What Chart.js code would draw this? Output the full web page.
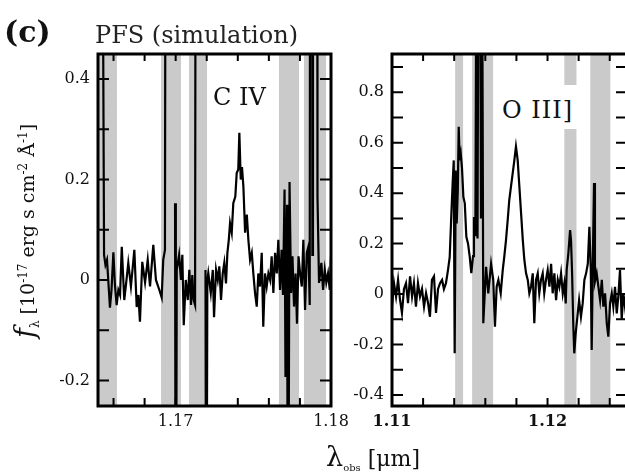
<!DOCTYPE html>
<html>
<head>
<meta charset="utf-8">
<script src="https://cdn.jsdelivr.net/npm/chart.js@4.4.1/dist/chart.umd.min.js"></script>
<style>
    html, body { margin: 0; padding: 0; background: #fff; }
    body { width: 625px; height: 473px; position: relative; overflow: hidden; font-family: "DejaVu Serif", serif; color: #111; }
    canvas { position: absolute; left: 0; top: 0; }
    .txt { position: absolute; white-space: nowrap; line-height: 1; }
    #panel { left: 4px; top: 17px; font-size: 30px; font-weight: bold; }
    #title { left: 95px; top: 23px; font-size: 24px; color: #222; }
    #civLabel { left: 213px; top: 85px; font-size: 24px; }
    #oiiiBox { position: absolute; left: 500px; top: 85px; width: 78px; height: 44px; background: #fff; }
    #oiiiLabel { left: 502px; top: 98px; font-size: 24px; letter-spacing: 1px; }
    #ytitle { left: -105px; top: 217px; width: 260px; height: 28px; text-align: center; font-size: 19px; transform: rotate(-90deg); }
    #ytitle .f { font-style: italic; font-size: 27px; }
    #ytitle sub, #ytitle sup { font-size: 12px; }
    #xtitle { left: 326px; top: 443px; font-size: 22px; }
    #xtitle .l { font-size: 27px; }
    #xtitle sub { font-size: 10px; }
</style>
</head>
<body>
<canvas id="civChart" width="625" height="473"></canvas>
<canvas id="oiiiChart" width="640" height="473"></canvas>
<div id="oiiiBox"></div>
<div class="txt" id="panel">(c)</div>
<div class="txt" id="title">PFS (simulation)</div>
<div class="txt" id="civLabel">C IV</div>
<div class="txt" id="oiiiLabel">O III]</div>
<div class="txt" id="ytitle"><span class="f">f</span><sub>λ</sub> [10<sup>-17</sup> erg s cm<sup>-2</sup> Å<sup>-1</sup>]</div>
<div class="txt" id="xtitle"><span class="l">λ</span><sub>obs</sub> [μm]</div>
<script>
// C IV panel: observed wavelength (um) and flux; null marks a gap in the spectrum
const civWave = [
    1.16529, 1.16539, 1.16548, 1.16558, 1.16568, 1.16577, 1.16587, 1.16599, 1.16609, 1.16620,
    1.16631, 1.16642, 1.16653, 1.16669, 1.16680, 1.16695, 1.16712, 1.16734, 1.16749, 1.16760,
    1.16770, 1.16785, 1.16803, 1.16820, 1.16835, 1.16856, 1.16873, 1.16895, 1.16910, 1.16920,
    1.16931, 1.16938, 1.16964,
    1.16996, 1.17001, 1.17007, 1.17022, 1.17034, 1.17043, 1.17052, 1.17065, 1.17078, 1.17088,
    1.17099, 1.17107, 1.17116, 1.17125, 1.17131, 1.17157,
    1.17192, 1.17197, 1.17204, 1.17210, 1.17226, 1.17239, 1.17247, 1.17260, 1.17271, 1.17281,
    1.17292, 1.17303, 1.17313, 1.17324, 1.17333, 1.17342, 1.17350, 1.17361, 1.17371, 1.17384,
    1.17393, 1.17403, 1.17410, 1.17419, 1.17427, 1.17436, 1.17447, 1.17458, 1.17468, 1.17479,
    1.17490, 1.17500, 1.17511, 1.17522, 1.17532, 1.17543, 1.17554, 1.17564, 1.17575, 1.17586,
    1.17597, 1.17608, 1.17618, 1.17629, 1.17640, 1.17651, 1.17661, 1.17672, 1.17682, 1.17691,
    1.17701, 1.17707, 1.17717, 1.17723, 1.17733, 1.17743, 1.17752, 1.17762, 1.17772, 1.17781,
    1.17791, 1.17801, 1.17812, 1.17822, 1.17833, 1.17844, 1.17854, 1.17863, 1.17867, 1.17877,
    1.17880, 1.17884, 1.17910, 1.17913, 1.17923, 1.17938, 1.17949, 1.17960, 1.17970, 1.17981,
    1.17992, 1.18004
];
const civFlux = [
    0.8, 0.05, 0.03, 0.04, -0.01, -0.055, -0.02, 0.055, -0.01, -0.05,
    -0.02, -0.03, 0.066, -0.04, -0.01, 0.034, -0.013, 0.06, -0.054, -0.03,
    -0.083, 0.036, -0.005, 0.04, -0.013, 0.07, 0.0, -0.02, -0.035, 0.04,
    0.06, 1.5, null,
    0.153, -0.8, 0.02, 0.05, 0.0, 0.05, -0.09, 0.0, -0.04, 0.02,
    -0.05, 0.01, -0.04, -0.05, 1.5, null,
    0.02, -0.8, 0.0, 0.014, -0.026, 0.02, -0.074, 0.02, 0.0, 0.027,
    -0.04, 0.013, 0.034, -0.007, 0.054, 0.08, 0.113, 0.094, 0.153, 0.166,
    0.213, 0.22, 0.293, 0.2, 0.225, 0.186, 0.094, 0.13, 0.08, 0.04,
    0.054, 0.013, -0.026, -0.053, 0.013, -0.013, 0.054, -0.093, 0.013, -0.013,
    0.013, 0.0, 0.047, -0.026, 0.054, 0.013, 0.08, -0.02, 0.06, -0.03,
    0.18, -0.193, 0.15, -0.8, 0.195, -0.026, 0.047, -0.053, 0.013, -0.087,
    0.047, 0.013, -0.013, 0.08, -0.06, 0.054, 0.066, -0.05, 1.5, 1.5,
    0.05, 1.5, 1.5, 0.166, -0.006, 0.034, -0.02, 0.02, -0.005, 0.013,
    -0.02, 0.08
];
const civBands = [[1.1650, 1.16622], [1.16906, 1.17034], [1.17086, 1.17202], [1.17665, 1.17794], [1.17826, 1.17968]];
const civXTicks = [1.166, 1.168, 1.17, 1.172, 1.174, 1.176, 1.178, 1.18];
const civXLabels = [1.17, 1.18];
const civYTicks = [-0.2, -0.1, 0, 0.1, 0.2, 0.3, 0.4];
const civYLabels = [-0.2, 0, 0.2, 0.4];

// O III] panel
const oiiiWave = [
    1.11000, 1.11013, 1.11026, 1.11039, 1.11051, 1.11064, 1.11077, 1.11090, 1.11103, 1.11116,
    1.11129, 1.11141, 1.11154, 1.11167, 1.11180, 1.11193, 1.11206, 1.11219, 1.11232, 1.11244,
    1.11257, 1.11270, 1.11283, 1.11296, 1.11309, 1.11322, 1.11334, 1.11347, 1.11360, 1.11371,
    1.11381, 1.11390, 1.11397, 1.11403, 1.11410, 1.11416, 1.11423, 1.11429, 1.11435, 1.11442,
    1.11450, 1.11459, 1.11468, 1.11478, 1.11489, 1.11500, 1.11510, 1.11521, 1.11527, 1.11536,
    1.11543, 1.11550, 1.11556, 1.11566, 1.11572, 1.11579, 1.11587, 1.11605, 1.11619, 1.11637,
    1.11651, 1.11662, 1.11673, 1.11684, 1.11699, 1.11712, 1.11722, 1.11733, 1.11744, 1.11754,
    1.11765, 1.11776, 1.11787, 1.11797, 1.11808, 1.11819, 1.11830, 1.11841, 1.11851, 1.11862,
    1.11873, 1.11883, 1.11894, 1.11905, 1.11915, 1.11926, 1.11937, 1.11947, 1.11958, 1.11969,
    1.11979, 1.11990, 1.12001, 1.12012, 1.12023, 1.12033, 1.12044, 1.12055, 1.12066, 1.12076,
    1.12087, 1.12098, 1.12108, 1.12117, 1.12123, 1.12134, 1.12145, 1.12151, 1.12158, 1.12166,
    1.12172, 1.12181, 1.12192, 1.12203, 1.12215, 1.12226, 1.12237, 1.12248, 1.12259, 1.12269,
    1.12278, 1.12284, 1.12293, 1.12299, 1.12305, 1.12316, 1.12327, 1.12338, 1.12349, 1.12359,
    1.12370, 1.12381, 1.12391, 1.12402, 1.12413, 1.12423, 1.12434, 1.12445, 1.12455, 1.12466,
    1.12477, 1.12487, 1.12498, 1.12511
];
const oiiiFlux = [
    -0.05, 0.043, -0.011, 0.056, -0.02, -0.075, 0.02, 0.043, -0.036, 0.07,
    -0.01, 0.043, -0.05, 0.043, -0.01, 0.02, -0.05, 0.004, -0.036, -0.09,
    0.056, 0.07, -0.075, 0.02, 0.043, 0.056, 0.02, 0.043, 0.095, 0.146,
    0.306, 0.44, 0.53, -0.235, 0.49, 0.28, 0.41, 0.663, 0.53, 0.557,
    0.5, 0.385, 0.36, 0.227, 0.2, 0.146, 0.083, 0.15, 0.306, 0.23,
    1.5, 0.22, 1.5, 1.5, 0.3, 1.5, -0.116, 0.108, 0.003, 0.12,
    0.056, -0.13, 0.029, 0.056, 0.003, 0.095, 0.148, 0.214, 0.294, 0.373,
    0.426, 0.479, 0.532, 0.585, 0.532, 0.426, 0.32, 0.214, 0.135, 0.082,
    0.056, 0.003, 0.029, 0.082, -0.116, 0.056, 0.082, 0.003, 0.056, 0.082,
    0.003, 0.056, 0.095, 0.029, 0.12, 0.003, 0.082, -0.024, 0.056, 0.029,
    0.082, 0.003, 0.042, -0.037, 0.095, 0.161, 0.254, 0.214, 0.082, -0.13,
    -0.235, -0.156, -0.09, -0.024, -0.09, -0.037, 0.056, 0.082, 0.12, 0.267,
    0.1, -0.222, 0.2, 0.44, 0.05, 0.082, 0.029, -0.024, 0.056, -0.05,
    0.003, -0.116, -0.169, -0.037, 0.003, -0.05, 0.029, -0.077, -0.011, 0.095,
    -0.103, 0.003, -0.05, 0.03
];
const oiiiBands = [[1.11406, 1.11457], [1.11515, 1.11650], [1.12108, 1.12186], [1.12275, 1.12404]];
const oiiiXTicks = [1.11, 1.112, 1.114, 1.116, 1.118, 1.12, 1.122, 1.124];
const oiiiXLabels = [1.11, 1.12];
const oiiiYTicks = [-0.4, -0.3, -0.2, -0.1, 0, 0.1, 0.2, 0.3, 0.4, 0.5, 0.6, 0.7, 0.8, 0.9];
const oiiiYLabels = [-0.4, -0.2, 0, 0.2, 0.4, 0.6, 0.8];

(function (window, document) {
    "use strict";

    const FONT = "DejaVu Serif";

    // grey sky-line bands under the spectrum, inward ticks and the frame on top
    const framePlugin = {
        id: "frame",
        beforeDatasetsDraw(chart, args, opts) {
            const { ctx, chartArea: a } = chart;
            const x = chart.scales.x;
            ctx.save();
            ctx.fillStyle = "#cacaca";
            (opts.bands || []).forEach(band => {
                const x0 = Math.max(x.getPixelForValue(band[0]), a.left);
                const x1 = Math.min(x.getPixelForValue(band[1]), a.right);
                ctx.fillRect(x0, a.top, x1 - x0, a.bottom - a.top);
            });
            ctx.restore();
        },
        afterDraw(chart) {
            const { ctx, chartArea: a } = chart;
            const x = chart.scales.x;
            const y = chart.scales.y;
            ctx.save();
            ctx.strokeStyle = "#000";
            ctx.lineWidth = 2;
            ctx.beginPath();
            x.ticks.forEach(t => {
                const px = x.getPixelForValue(t.value);
                ctx.moveTo(px, a.bottom);
                ctx.lineTo(px, a.bottom - 8);
                ctx.moveTo(px, a.top);
                ctx.lineTo(px, a.top + 7);
            });
            y.ticks.forEach(t => {
                const py = y.getPixelForValue(t.value);
                ctx.moveTo(a.left, py);
                ctx.lineTo(a.left + 11, py);
                ctx.moveTo(a.right, py);
                ctx.lineTo(a.right - 11, py);
            });
            ctx.stroke();
            ctx.lineWidth = 3;
            ctx.strokeRect(a.left, a.top, a.right - a.left, a.bottom - a.top);
            ctx.restore();
        }
    };

    function makeChart(id, cfg) {
        const canvas = document.getElementById(id);
        const points = cfg.wave.map((w, i) => ({ x: w, y: cfg.flux[i] }));
        return new Chart(canvas.getContext("2d"), {
            type: "line",
            data: {
                datasets: [{
                    data: points,
                    borderColor: "#000",
                    borderWidth: 2.2,
                    pointRadius: 0,
                    tension: 0,
                    spanGaps: false,
                    fill: false
                }]
            },
            options: {
                responsive: false,
                animation: false,
                devicePixelRatio: 1,
                events: [],
                layout: { padding: cfg.padding },
                plugins: {
                    legend: { display: false },
                    tooltip: { enabled: false },
                    frame: { bands: cfg.bands }
                },
                scales: {
                    x: {
                        type: "linear",
                        min: cfg.xMin,
                        max: cfg.xMax,
                        afterBuildTicks: s => { s.ticks = cfg.xTicks.map(v => ({ value: v })); },
                        afterFit: s => { s.height = 30; },
                        grid: { display: false, drawTicks: false },
                        border: { display: false },
                        ticks: {
                            autoSkip: false,
                            maxRotation: 0,
                            padding: 6,
                            color: "#111",
                            font: { family: FONT, size: 16, weight: cfg.xBold ? "bold" : "normal" },
                            callback: v => cfg.xLabels.includes(v) ? String(v) : ""
                        }
                    },
                    y: {
                        type: "linear",
                        min: cfg.yMin,
                        max: cfg.yMax,
                        afterBuildTicks: s => { s.ticks = cfg.yTicks.map(v => ({ value: v })); },
                        afterFit: s => { s.width = 40; },
                        grid: { display: false, drawTicks: false },
                        border: { display: false },
                        ticks: {
                            autoSkip: false,
                            padding: 8,
                            color: "#111",
                            font: { family: FONT, size: 16 },
                            callback: v => cfg.yLabels.includes(v) ? String(v) : ""
                        }
                    }
                }
            },
            plugins: [framePlugin]
        });
    }

    makeChart("civChart", {
        wave: civWave, flux: civFlux, bands: civBands,
        xMin: 1.165, xMax: 1.18, yMin: -0.251, yMax: 0.45,
        xTicks: civXTicks, xLabels: civXLabels, yTicks: civYTicks, yLabels: civYLabels,
        padding: { left: 58, top: 54, right: 294, bottom: 37 }
    });

    makeChart("oiiiChart", {
        wave: oiiiWave, flux: oiiiFlux, bands: oiiiBands,
        xMin: 1.11, xMax: 1.12511, yMin: -0.444, yMax: 0.952,
        xTicks: oiiiXTicks, xLabels: oiiiXLabels, yTicks: oiiiYTicks, yLabels: oiiiYLabels,
        xBold: true,
        padding: { left: 352, top: 54, right: 13, bottom: 37 }
    });
})(window, document);
</script>
</body>
</html>
